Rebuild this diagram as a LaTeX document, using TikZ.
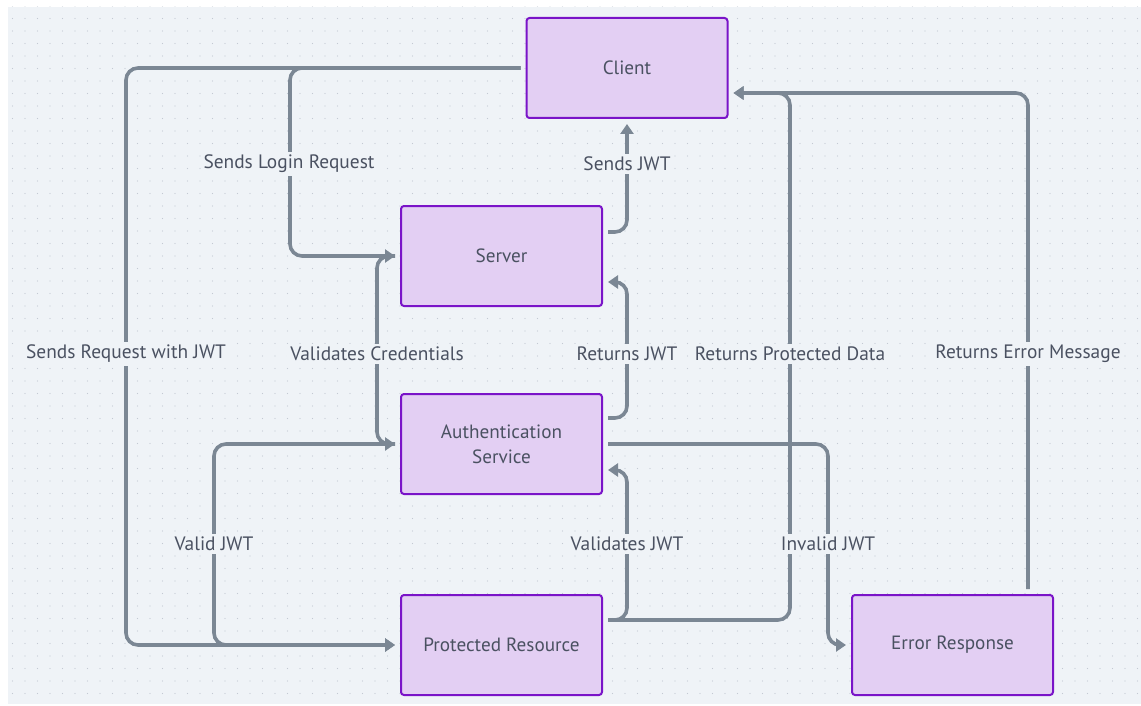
\documentclass[tikz,border=0pt]{standalone}
\usepackage{fontspec}
\setmainfont{PT Sans}
\usetikzlibrary{arrows.meta, positioning, patterns.meta}
\definecolor{canvas}{HTML}{EFF3F7}
\definecolor{griddot}{HTML}{C3C9D3}
\definecolor{boxfill}{HTML}{E3CFF3}
\definecolor{boxline}{HTML}{7A14C8}
\definecolor{wire}{HTML}{7B8794}
\definecolor{ink}{HTML}{4A5161}

\begin{document}
\begin{tikzpicture}[x=0.5pt, y=-0.5pt,
  service/.style={draw=boxline, line width=1pt, outer sep=0pt, fill=boxfill, rounded corners=1.5pt, minimum width=100.5pt, minimum height=50pt, text=ink, align=center, font=\fontsize{9.6}{12.5}\selectfont},
  msg/.style={fill=canvas, text=ink, inner sep=1.5pt, font=\fontsize{9.7}{11}\selectfont},
  flow/.style={draw=wire, line width=1.8pt, rounded corners=6pt, shorten <=3pt, shorten >=3pt, -{Triangle[length=5pt, width=6.5pt]}}
  ]
  \useasboundingbox (0,0) rectangle (1141,706);
  \fill[canvas] (8,7) rectangle (1141,704);
  \fill[pattern={Dots[radius=0.35pt, distance=6.25pt]}, pattern color=griddot] (8,7) rectangle (1141,704);

  % boxes
  \node[service] (client) at (627,68) {Client};
  \node[service, below=44pt of client, xshift=-62.75pt] (server) {Server};
  \node[service, below=44pt of server] (auth) {Authentication\\Service};
  \node[service, below=50.5pt of auth] (pr) {Protected Resource};
  \node[service, right=125pt of pr] (er) {Error Response};

  % lanes and side ports
  \coordinate (reqlane) at (126,0);
  \coordinate (loginlane) at (290,0);
  \coordinate (validlane) at (214,0);
  \coordinate (credlane) at (377,0);
  \coordinate (jwtlane) at (client.south);
  \coordinate (datalane) at (790,0);
  \coordinate (badlane) at (828,0);
  \coordinate (srvOut) at ([yshift=12pt]server.east);
  \coordinate (srvIn) at ([yshift=-13pt]server.east);
  \coordinate (authOut) at ([yshift=13pt]auth.east);
  \coordinate (authIn) at ([yshift=-13pt]auth.east);
  \coordinate (prOut) at ([yshift=12.5pt]pr.east);
  \coordinate (cliIn) at ([yshift=-12.5pt]client.east);
  \coordinate (errOut) at ([xshift=37.75pt]er.north);

  \draw[flow] (client.west) -| (reqlane |- pr.west) -- (pr.west);
  \draw[flow] (client.west) -| (loginlane |- server.west) -- (server.west);
  \draw[flow] (srvOut) -| (client.south);
  \draw[flow] (server.west) -| (credlane |- auth.west) -- (auth.west);
  \draw[flow] (authOut) -| (jwtlane |- srvIn) -- (srvIn);
  \draw[flow] (prOut) -| (datalane |- cliIn) -- (cliIn);
  \draw[flow] (errOut) |- (cliIn);
  \draw[flow] (auth.east) -| (badlane |- er.west) -- (er.west);
  \draw[flow] (prOut) -| (jwtlane |- authIn) -- (authIn);
  \draw[flow] (auth.west) -| (validlane |- pr.west) -- (pr.west);

  % edge labels
  \node[msg] (m1) at (289,164) {Sends Login Request};
  \node[msg] (m2) at (627,164) {Sends JWT};
  \node[msg] (m3) at (126,354) {Sends Request with JWT};
  \node[msg] (m4) at (377,354) {Validates Credentials};
  \node[msg] (m5) at (627,354) {Returns JWT};
  \node[msg] (m6) at (790,354) {Returns Protected Data};
  \node[msg] (m7) at (1028,354) {Returns Error Message};
  \node[msg] (m8) at (214,544) {Valid JWT};
  \node[msg] (m9) at (627,544) {Validates JWT};
  \node[msg] (m10) at (828,544) {Invalid JWT};
\end{tikzpicture}
\end{document}
